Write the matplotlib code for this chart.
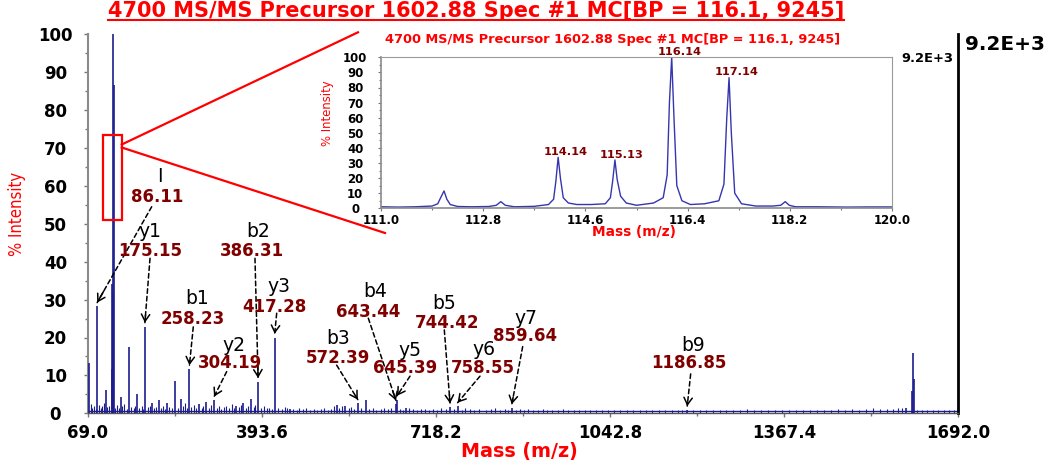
import matplotlib
matplotlib.use('Agg')
import matplotlib.pyplot as plt
from matplotlib.lines import Line2D
from matplotlib.patches import Rectangle
from matplotlib.ticker import FixedLocator, MultipleLocator
from matplotlib import font_manager

# ---------------- data ----------------
peak_mz = [71.0, 86.11, 102.0, 113.0, 114.14, 115.13, 116.14, 117.14, 130.0, 146.0,
           160.0, 175.15, 188.0, 202.0, 217.0, 231.0, 242.0, 258.23, 277.0, 290.0,
           304.19, 346.0, 359.0, 374.0, 386.31, 417.28, 446.0, 533.0, 548.0, 572.39,
           587.0, 643.44, 645.39, 662.0, 744.42, 758.55, 859.64, 1186.85, 1595.0,
           1606.5, 1608.5, 1610.0]
peak_int = [13.4, 28.2, 6.1, 11.7, 34.0, 32.0, 100.0, 86.5, 4.3, 17.4,
            5.0, 22.9, 2.6, 3.4, 2.8, 8.6, 3.9, 11.7, 2.4, 3.0,
            3.4, 2.0, 2.7, 3.9, 8.3, 20.0, 1.2, 2.1, 1.8, 2.6,
            3.6, 2.4, 3.6, 1.5, 1.6, 1.8, 1.4, 0.9, 1.5,
            6.0, 16.0, 9.0]

noise_mz = [74, 77, 80, 83, 90, 93, 95, 99, 105, 108, 120, 124, 127, 133, 137, 141, 150, 154, 157, 165, 169, 172, 180, 184, 192, 196,
            206, 209, 212, 221, 225, 236, 246, 250, 253, 262, 266, 270, 281, 284, 294, 298, 309, 313, 318, 323, 327, 332, 337, 341, 351, 354, 364, 368, 378, 381, 392, 398, 403, 407, 412, 424, 430, 436, 441,
            452, 458, 463, 470, 476, 484, 490, 497, 503, 510, 516, 522, 528, 537, 542, 555, 560, 565, 579, 593, 600, 607, 615, 622, 628, 634, 651, 656, 668, 675, 682, 690, 697, 705, 712, 720, 727, 736, 752, 766, 773, 781, 790, 798, 812, 820, 829, 838, 846, 853,
            867, 874, 882, 890, 899, 908, 917, 926, 935, 945, 955, 965, 975, 985, 996, 1006, 1017, 1028, 1040, 1051, 1062, 1074, 1086, 1098, 1110, 1122, 1134, 1146, 1158, 1170, 1178, 1198,
            1210, 1222, 1235, 1248, 1260, 1273, 1286, 1299, 1312, 1325, 1338, 1351, 1364, 1377, 1390, 1403, 1416, 1429, 1442, 1455, 1468, 1481, 1494, 1507, 1520, 1533, 1546, 1559, 1570, 1580, 1588, 1616, 1625, 1635, 1645, 1655, 1665, 1675, 1685]
noise_int = [2.5, 1.5, 2.0, 1.2, 2.2, 1.4, 1.8, 2.6, 1.6, 2.0, 1.5, 2.2, 1.3, 1.8, 2.4, 1.2, 1.7, 1.3, 2.0, 1.4, 1.8, 1.2, 1.6, 2.0, 1.3, 1.7,
             1.4, 1.9, 1.2, 1.6, 1.3, 1.5, 1.8, 2.6, 1.4, 1.7, 2.2, 1.3, 1.5, 1.9, 1.4, 2.3, 1.3, 1.8, 1.2, 1.6, 2.0, 1.3, 2.4, 1.5, 1.7, 2.1, 1.4, 2.0, 1.6, 2.3, 1.4, 1.8, 1.3, 1.5, 1.2, 1.4, 1.1, 1.6, 1.3,
             1.2, 1.0, 1.4, 1.1, 1.3, 1.0, 1.2, 0.9, 1.1, 1.3, 1.0, 1.2, 1.9, 1.4, 1.8, 1.3, 1.6, 1.2, 1.4, 1.1, 1.3, 1.0, 1.2, 1.5, 1.1, 1.3, 1.2, 1.0, 1.4, 1.1, 1.0, 1.2, 1.1, 0.9, 1.2, 1.0, 1.3, 1.1, 1.2, 1.0, 1.3, 1.1, 0.9, 1.2, 1.0, 1.1, 1.3, 1.0, 1.2, 0.9,
             1.0, 1.2, 0.9, 1.1, 1.0, 0.9, 1.1, 0.8, 1.0, 0.9, 1.1, 0.8, 1.0, 0.9, 1.0, 0.8, 0.9, 1.0, 0.8, 0.9, 1.0, 0.8, 0.9, 0.8, 1.0, 0.8, 0.9, 0.8, 0.9, 0.8, 1.0, 0.8,
             0.8, 0.9, 0.8, 1.0, 0.8, 0.9, 0.8, 1.1, 0.8, 0.9, 0.8, 1.0, 0.9, 0.8, 0.9, 1.0, 0.8, 0.9, 1.0, 0.9, 1.1, 1.0, 1.2, 1.0, 1.1, 1.3, 1.1, 1.2, 1.1, 1.3, 1.4, 1.0, 0.9, 0.8, 0.9, 0.8, 0.9, 0.8, 0.9]
baseline = 0.6

ion_names = ['I', 'y1', 'b1', 'y2', 'b2', 'y3', 'b3', 'b4', 'y5', 'b5', 'y6', 'y7', 'b9']
ion_mz = [86.11, 175.15, 258.23, 304.19, 386.31, 417.28, 572.39, 643.44, 645.39,
          744.42, 758.55, 859.64, 1186.85]

x_ticks = [69.0, 393.6, 718.2, 1042.8, 1367.4, 1692.0]

inset_mz = [111.0, 111.3, 111.6, 111.9, 112.0, 112.05, 112.11, 112.16, 112.22, 112.35,
            112.6, 112.9, 113.03, 113.11, 113.19, 113.35, 113.7, 113.95, 114.04, 114.08,
            114.12, 114.16, 114.21, 114.3, 114.45, 114.7, 114.95, 115.04, 115.08, 115.12,
            115.16, 115.22, 115.32, 115.5, 115.8, 115.97, 116.04, 116.08, 116.12, 116.16,
            116.21, 116.3, 116.45, 116.7, 116.95, 117.04, 117.09, 117.13, 117.17, 117.23,
            117.35, 117.6, 117.9, 118.04, 118.12, 118.19, 118.3, 118.7, 119.2, 119.6, 120.0]
inset_int = [1.0, 0.8, 1.0, 1.5, 3.0, 7.0, 11.5, 6.0, 2.5, 1.2,
             1.0, 1.2, 2.0, 4.4, 2.0, 1.0, 1.3, 2.5, 6.0, 18.0,
             33.8, 20.0, 7.0, 3.5, 2.5, 2.5, 3.0, 7.0, 18.0, 32.0,
             19.0, 8.0, 3.5, 2.0, 3.5, 7.0, 22.0, 70.0, 100.0, 60.0,
             15.0, 5.0, 2.5, 3.0, 5.0, 16.0, 60.0, 86.5, 50.0, 10.0,
             3.0, 1.5, 1.5, 2.0, 4.4, 2.0, 1.0, 1.0, 0.8, 0.9, 0.9]
inset_label_mz = [114.14, 115.13, 116.14, 117.14]
inset_label_int = [33.8, 32.0, 100.0, 86.5]
inset_x_ticks = [111.0, 112.8, 114.6, 116.4, 118.2, 120.0]

title_text = "4700 MS/MS Precursor 1602.88 Spec #1 MC[BP = 116.1, 9245]"
scale_text = "9.2E+3"
xlabel_text = "Mass (m/z)"
ylabel_text = "% Intensity"

# ---------------- layout (label positions, data coords of main axes) ----------------
name_xy = [(203.3, 62.4), (184.7, 47.9), (271.8, 30.2), (341.9, 18.0), (386.7, 48.1),
           (425.9, 33.4), (535.9, 19.8), (604.4, 32.1), (669.7, 16.7), (733.1, 29.0),
           (808.3, 16.9), (886.1, 25.1), (1197.1, 17.8)]
value_xy = [(197.2, 57.2), (184.7, 42.9), (264.3, 24.9), (333.9, 13.2), (374.4, 42.8),
            (416.0, 28.1), (535.4, 14.5), (591.9, 26.8), (660.4, 11.9), (738.2, 23.9),
            (805.3, 12.0), (884.2, 20.4), (1190.7, 13.2)]
start_xy = [(187.8, 54.5), (184.7, 40.9), (265.4, 22.8), (327.7, 11.0), (380.5, 40.9),
            (421.0, 26.4), (532.9, 12.7), (591.9, 25.1), (669.7, 9.8), (733.7, 22.0),
            (800.3, 9.8), (879.9, 17.6), (1193.3, 10.4)]

W, H = 1051, 462
BLUE = '#1c1c8f'
RED = '#ff0000'
DARKRED = '#800000'


def fx(px):
    return px / W


def fy(py):
    return 1 - py / H


def narrow_font():
    for fam, stretch in [('Liberation Sans Narrow', 'normal'), ('DejaVu Sans', 'condensed'),
                         ('Open Sans', 'condensed'), ('Roboto', 'condensed'),
                         ('Noto Sans', 'condensed'), ('Inter', 'condensed')]:
        try:
            p = font_manager.findfont(font_manager.FontProperties(family=fam, stretch=stretch),
                                      fallback_to_default=False)
        except Exception:
            continue
        low = p.lower()
        if 'narrow' in low or 'condensed' in low:
            return dict(family=[fam, 'DejaVu Sans'], stretch=stretch)
    return dict(family=['DejaVu Sans'])


NARROW = narrow_font()
plt.rcParams['font.family'] = ['DejaVu Sans']

fig = plt.figure(figsize=(W / 100, H / 100), dpi=100)
fig.patch.set_facecolor('white')

# ---------------- main axes ----------------
ax = fig.add_axes([fx(88), fy(413.3), (958 - 88) / W, (413.3 - 34.3) / H])
ax.set_xlim(x_ticks[0], x_ticks[-1])
ax.set_ylim(0, 100)
ax.axhline(baseline, color=BLUE, lw=1.0, zorder=2)
ax.vlines(noise_mz, 0, noise_int, color=BLUE, lw=0.8, zorder=2)
ax.vlines(peak_mz, 0, peak_int, color=BLUE, lw=1.2, zorder=3)

ax.spines['top'].set_visible(False)
ax.spines['left'].set_color('#8a8a8a')
ax.spines['left'].set_linewidth(1.5)
ax.spines['right'].set_color('black')
ax.spines['right'].set_linewidth(2.0)
ax.spines['bottom'].set_color('#555555')
ax.spines['bottom'].set_linewidth(1.0)

ax.xaxis.set_major_locator(FixedLocator(x_ticks))
ax.xaxis.set_minor_locator(FixedLocator([(a + b) / 2 for a, b in zip(x_ticks[:-1], x_ticks[1:])]))
ax.set_xticklabels([f'{t:.1f}' for t in x_ticks])
ax.yaxis.set_major_locator(MultipleLocator(10))
ax.yaxis.set_minor_locator(MultipleLocator(5))
ax.tick_params(axis='both', which='both', direction='out', color='#777777', width=1.0)
ax.tick_params(axis='both', which='major', length=3)
ax.tick_params(axis='both', which='minor', length=2)
ax.tick_params(axis='x', which='major', pad=5, labelsize=12)
ax.tick_params(axis='y', which='major', pad=20.5, labelsize=12)
for lab in ax.get_xticklabels() + ax.get_yticklabels():
    lab.set_fontweight('bold')
for lab in ax.get_yticklabels():
    lab.set_ha('center')

# zoom rectangle
ax.add_patch(Rectangle((97.5, 51.0), 131.9 - 97.5, 73.5 - 51.0, fill=False,
                       edgecolor=RED, lw=1.6, zorder=4))

# peak annotations
for name, mz, nxy, vxy, sxy in zip(ion_names, ion_mz, name_xy, value_xy, start_xy):
    h = peak_int[peak_mz.index(mz)]
    tip = (mz, h + 1.0)
    ax.text(nxy[0], nxy[1], name, ha='center', va='center', fontsize=13.5, color='black', zorder=6)
    ax.text(vxy[0], vxy[1], f'{mz:.2f}', ha='center', va='center', fontsize=12,
            fontweight='bold', color=DARKRED, zorder=6)
    ax.annotate('', xy=tip, xytext=sxy,
                arrowprops=dict(arrowstyle='-', linestyle=(0, (3, 2)), lw=1.1,
                                color='black', shrinkA=0, shrinkB=0), zorder=5)
    back = (tip[0] + 0.12 * (sxy[0] - tip[0]), tip[1] + 0.12 * (sxy[1] - tip[1]))
    ax.annotate('', xy=tip, xytext=back,
                arrowprops=dict(arrowstyle='->,head_length=0.5,head_width=0.3', lw=1.1,
                                color='black', shrinkA=0, shrinkB=0, mutation_scale=10), zorder=5)

# ---------------- inset axes ----------------
ax2 = fig.add_axes([fx(381), fy(208.3), (892 - 381) / W, (208.3 - 57.3) / H])
ax2.plot(inset_mz, inset_int, color='#3535b0', lw=1.0)
ax2.set_xlim(inset_x_ticks[0], inset_x_ticks[-1])
ax2.set_ylim(0, 100)
for s in ['top', 'right']:
    ax2.spines[s].set_color('#9a9a9a')
    ax2.spines[s].set_linewidth(0.8)
for s in ['left', 'bottom']:
    ax2.spines[s].set_color('#8a8a8a')
    ax2.spines[s].set_linewidth(1.2)
ax2.xaxis.set_major_locator(FixedLocator(inset_x_ticks))
ax2.xaxis.set_minor_locator(FixedLocator([(a + b) / 2 for a, b in zip(inset_x_ticks[:-1], inset_x_ticks[1:])]))
ax2.set_xticklabels([f'{t:.1f}' for t in inset_x_ticks])
ax2.yaxis.set_major_locator(MultipleLocator(10))
ax2.yaxis.set_minor_locator(MultipleLocator(5))
ax2.tick_params(axis='both', which='both', direction='out', color='#777777', width=0.8)
ax2.tick_params(axis='both', which='major', length=2.5)
ax2.tick_params(axis='both', which='minor', length=1.5)
ax2.tick_params(axis='x', which='major', pad=1.5, labelsize=8.5)
ax2.tick_params(axis='y', which='major', pad=16, labelsize=8.5)
for lab in ax2.get_xticklabels() + ax2.get_yticklabels():
    lab.set_fontweight('bold')
for lab in ax2.get_yticklabels():
    lab.set_ha('center')
for mz, h in zip(inset_label_mz, inset_label_int):
    ax2.annotate(f'{mz:.2f}', xy=(mz, h), xytext=(4.7, 0.3), textcoords='offset points',
                 ha='center', va='bottom', fontsize=8.2, fontweight='bold', color=DARKRED,
                 annotation_clip=False)

# ---------------- zoom connector lines ----------------
fig.add_artist(Line2D([fx(121.7), fx(358)], [fy(144.5), fy(32.3)], color=RED, lw=1.6))
fig.add_artist(Line2D([fx(121.7), fx(385)], [fy(147.5), fy(233)], color=RED, lw=1.6))

# ---------------- figure texts ----------------
renderer = fig.canvas.get_renderer()


def fit(t, target_px):
    bb = t.get_window_extent(renderer)
    t.set_fontsize(t.get_fontsize() * target_px / bb.width)


def fit_h(t, target_px):
    bb = t.get_window_extent(renderer)
    t.set_fontsize(t.get_fontsize() * target_px / bb.height)


title = fig.text(fx(476), fy(11.0), title_text, ha='center', va='center', color=RED,
                 fontweight='bold', fontsize=13)
fit(title, 735)
bb = title.get_window_extent(renderer)
fig.add_artist(Line2D([bb.x0 / W, bb.x1 / W], [fy(19.5), fy(19.5)], color=RED, lw=1.5))

t = fig.text(fx(1005), fy(44.3), scale_text, ha='center', va='center', color='black',
             fontweight='bold', fontsize=13)
fit(t, 80)
t = fig.text(fx(17), fy(214), ylabel_text, ha='center', va='center', rotation=90,
             color=RED, fontsize=13, **NARROW)
fit_h(t, 84)
t = fig.text(fx(519.7), fy(451), xlabel_text, ha='center', va='center', color=RED,
             fontweight='bold', fontsize=12)
fit(t, 116)

t = fig.text(fx(613), fy(39.0), title_text, ha='center', va='center', color=RED,
             fontweight='bold', fontsize=8)
fit(t, 455)
t = fig.text(fx(927.5), fy(58.3), scale_text, ha='center', va='center', color='black',
             fontweight='bold', fontsize=9)
fit(t, 52)
t = fig.text(fx(328), fy(113), ylabel_text, ha='center', va='center', rotation=90,
             color=RED, fontsize=10.5, **NARROW)
fit_h(t, 66)
t = fig.text(fx(633.7), fy(231.5), xlabel_text, ha='center', va='center', color=RED,
             fontweight='bold', fontsize=9)
fit(t, 84)

fig.savefig('out.png', dpi=100, facecolor='white')
